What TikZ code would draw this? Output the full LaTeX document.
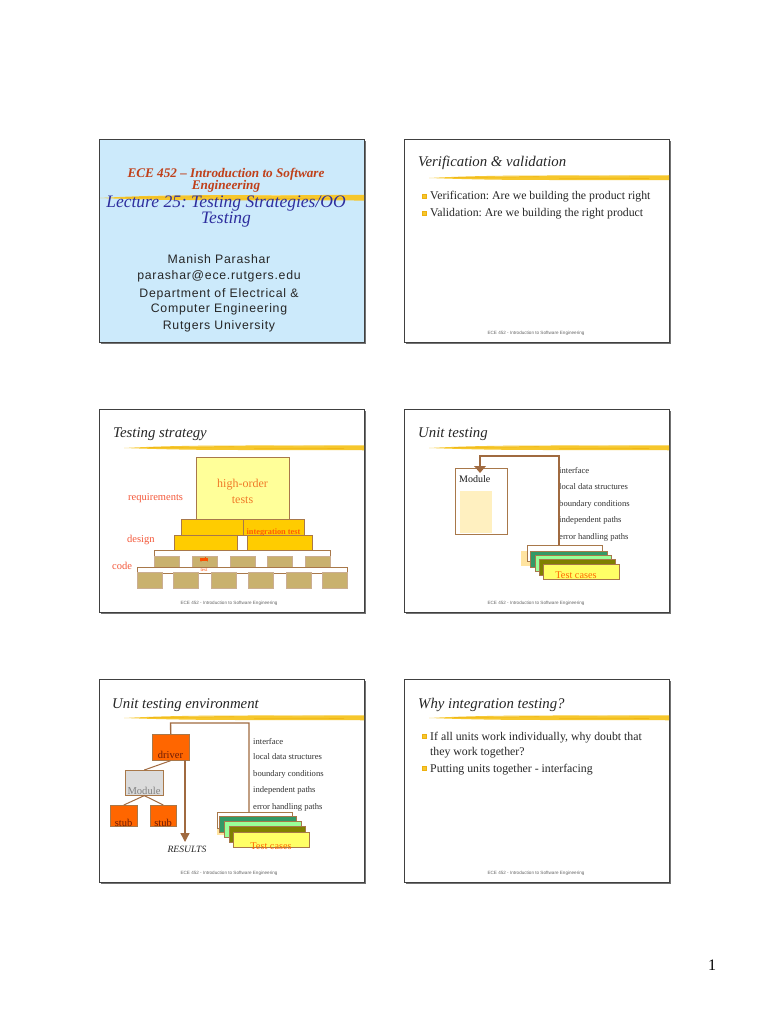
\documentclass[tikz,border=0pt]{standalone}
\usepackage{fontspec}
\setmainfont{Liberation Serif}
\newfontfamily\arialf{Liberation Sans}
\newfontfamily\arialsp[LetterSpace=6]{Liberation Sans}
\usetikzlibrary{arrows.meta}
\frenchspacing
\definecolor{slideblue}{HTML}{CCEAFB}
\definecolor{brushc}{HTML}{F6C72C}
\definecolor{brushd}{HTML}{EDB010}
\definecolor{boxbrown}{HTML}{A8784A}
\definecolor{lnbrown}{HTML}{A06A40}
\definecolor{orng}{HTML}{FF6600}
\definecolor{tanc}{HTML}{C9B16E}
\definecolor{goldc}{HTML}{FFCC00}
\definecolor{paley}{HTML}{FFFF99}
\definecolor{dkgreen}{HTML}{339966}
\definecolor{ltgreen}{HTML}{99FF99}
\definecolor{olivec}{HTML}{808000}
\definecolor{tcyellow}{HTML}{FFFF66}
\definecolor{lblred}{HTML}{F4583A}
\definecolor{hotext}{HTML}{F07A28}
\definecolor{ecered}{HTML}{C0401A}
\definecolor{lectblue}{HTML}{2E2E9E}
\definecolor{palefill}{HTML}{FFF0C0}
\definecolor{patchy}{HTML}{FFE4A0}
\definecolor{drvtext}{HTML}{6A1A08}
\tikzset{
 slideframe/.style={draw=black!75,line width=0.7pt,fill=white,inner sep=0pt,minimum width=265pt,minimum height=203pt,anchor=north west},
 ttl/.style={anchor=base west,inner sep=0pt,font=\fontsize{14.8}{16}\selectfont\itshape,text=black!85},
 bul/.style={anchor=base west,inner sep=0pt,font=\fontsize{11.8}{13}\selectfont,text=black!85},
 bsq/.style={fill=brushc,draw=brushd,line width=0.3pt,minimum size=4pt,inner sep=0pt},
 foot/.style={inner sep=0pt,anchor=base,font=\arialf\fontsize{4.6}{5}\selectfont,text=black!60},
 lst/.style={anchor=base west,inner sep=0pt,font=\fontsize{8.6}{9}\selectfont,text=black!80},
 bx/.style={anchor=north west,inner sep=0pt,draw=boxbrown,line width=0.6pt},
 conn/.style={draw=lnbrown,line width=1.4pt},
 lbl/.style={anchor=base west,inner sep=0pt,font=\fontsize{10.5}{12}\selectfont,text=lblred},
 auth/.style={anchor=base,inner sep=0pt,font=\arialsp\fontsize{12.3}{14}\selectfont,text=black!85},
}
% box: name, style, x1, y1, x2, y2
\newcommand\bxn[6]{\node[bx,#2,minimum width={#5-#3},minimum height={#6-#4}] (#1) at (#3,#4) {};}
% brush stroke: x1, x2, y, half-thickness
\newcommand\brushline[4]{%
 \fill[brushc] (#1,#3) .. controls ({#1+30},{#3-0.6*#4}) and ({#1+60},{#3-#4}) .. ({#1+120},{#3-#4}) -- (#2,{#3-1.1*#4}) -- (#2,{#3+0.9*#4}) -- ({#1+120},{#3+0.8*#4}) .. controls ({#1+60},{#3+0.8*#4}) and ({#1+30},{#3+0.4*#4}) .. (#1,#3) -- cycle;
 \draw[brushd,line width=0.6pt,opacity=0.7] ({#1+25},{#3-0.2*#4}) -- ({#1+110},{#3-0.5*#4}) ({#1+130},{#3+0.3*#4}) -- ({#2-20},{#3+0.2*#4});
 \draw[white,line width=0.3pt,opacity=0.6] ({#1+50},{#3-0.8*#4}) -- ({#1+90},{#3-0.7*#4}) ({#1+150},{#3-0.9*#4}) -- ({#1+200},{#3-0.8*#4});
}
\begin{document}
\begin{tikzpicture}[x=1pt,y=-1pt]
\useasboundingbox[fill=white] (0,0) rectangle (768,1024);

% ---------- shadows and frames
\foreach \sx/\sy in {99/139,404/139,99/409,404/409,99/679,404/679}
  \fill[black!55] ({\sx+1.6},{\sy+1.6}) rectangle ({\sx+266.6},{\sy+204.6});
\node[slideframe,fill=slideblue] (s1) at (99,139) {};
\node[slideframe] (s2) at (404,139) {};
\node[slideframe] (s3) at (99,409) {};
\node[slideframe] (s4) at (404,409) {};
\node[slideframe] (s5) at (99,679) {};
\node[slideframe] (s6) at (404,679) {};

% ---------- slide 1
\brushline{100}{364}{198}{2.8}
\node[anchor=base,inner sep=0pt,font=\fontsize{13.2}{14}\selectfont\bfseries\itshape,text=ecered] (s1a) at (226,178) {ECE 452 -- Introduction to Software};
\node[anchor=base,inner sep=0pt,font=\fontsize{13.2}{14}\selectfont\bfseries\itshape,text=ecered] (s1b) at (226,190) {Engineering};
\node[anchor=base,inner sep=0pt,font=\fontsize{17.5}{18}\selectfont\itshape,text=lectblue] (s1c) at (226,208) {Lecture 25: Testing Strategies/OO};
\node[anchor=base,inner sep=0pt,font=\fontsize{17.5}{18}\selectfont\itshape,text=lectblue] (s1d) at (226,224) {Testing};
\node[auth] (s1e) at (219,263) {Manish Parashar};
\node[auth] (s1f) at (219,279) {parashar@ece.rutgers.edu};
\node[auth] (s1g) at (219,297) {Department of Electrical \&};
\node[auth] (s1h) at (219,312) {Computer Engineering};
\node[auth] (s1i) at (219,329) {Rutgers University};

% ---------- slide 2
\node[ttl] (t2) at (418,167) {Verification \& validation};
\brushline{429}{669}{178}{2.5}
\node[bsq] (b2a) at (424,196) {};
\node[bul] (v2a) at (430,200) {Verification: Are we building the product right};
\node[bsq] (b2b) at (424,213) {};
\node[bul] (v2b) at (430,217) {Validation: Are we building the right product};
\node[foot] (f2) at (536,334) {ECE 452 - Introduction to Software Engineering};

% ---------- slide 3
\node[ttl] (t3) at (113,437) {Testing strategy};
\brushline{124}{364}{448}{2.5}
\bxn{ho}{fill=paley}{196}{457}{289}{519}
\node[anchor=base,inner sep=0pt,font=\fontsize{12}{14}\selectfont,text=hotext] (hot1) at (242.5,487) {high-order};
\node[anchor=base,inner sep=0pt,font=\fontsize{12}{14}\selectfont,text=hotext] (hot2) at (242.5,503) {tests};
\bxn{in1}{fill=goldc}{181}{519}{243}{535}
\bxn{in2}{fill=goldc}{243}{519}{304}{535}
\node[anchor=base,inner sep=0pt,font=\fontsize{8.3}{9}\selectfont\bfseries,text=orng!90!red] (intt) at (273.5,534) {integration test};
\bxn{dg}{fill=white}{237}{535}{247}{550}
\bxn{d1}{fill=goldc}{174}{535}{237}{550}
\bxn{d2}{fill=goldc}{247}{535}{312}{550}
\bxn{rowa}{fill=white}{154}{550}{330}{567}
\foreach \i/\x in {1/154,2/192,3/229.5,4/267,5/305}
  \bxn{ta\i}{fill=tanc,draw=boxbrown!60}{\x}{556}{\x+25}{567}
\bxn{rowb}{fill=white}{137}{567}{347}{573}
\foreach \i/\x in {1/137,2/173,3/211,4/248,5/286,6/322}
  \bxn{tb\i}{fill=tanc,draw=boxbrown!60}{\x}{572}{\x+25}{588}
\node[anchor=base,inner sep=0pt,font=\fontsize{5}{6}\selectfont,text=orng!80!red] (unt) at (204,561) {unit};
\node[anchor=base,inner sep=0pt,font=\fontsize{5}{6}\selectfont,text=orng!80!red] (tst) at (204,571) {test};
\node[lbl] (lreq) at (128,500) {requirements};
\node[lbl] (ldes) at (127,542) {design};
\node[lbl] (lcod) at (112,569) {code};
\node[foot] (f3) at (229,604) {ECE 452 - Introduction to Software Engineering};

% ---------- slide 4
\node[ttl] (t4) at (418,437) {Unit testing};
\brushline{429}{669}{448}{2.5}
\bxn{m4}{fill=white}{455}{468}{507}{534}
\bxn{m4in}{fill=palefill,draw=none}{460}{491}{492}{533}
\node[anchor=base west,inner sep=0pt,font=\fontsize{10}{12}\selectfont,text=black!90] (m4t) at (459,482) {Module};
\node[lst] (l4a) at (559,473) {interface};
\node[lst] (l4b) at (559,489) {local data structures};
\node[lst] (l4c) at (559,506) {boundary conditions};
\node[lst] (l4d) at (559,522) {independent paths};
\node[lst] (l4e) at (559,539) {error handling paths};
\bxn{tc4p}{fill=patchy,draw=none}{521}{551}{530}{566}
\bxn{tc4w}{fill=white}{527}{545}{602}{561}
\bxn{tc4a}{fill=dkgreen}{530}{551}{607}{567}
\bxn{tc4b}{fill=ltgreen}{535}{555}{611}{571}
\bxn{tc4c}{fill=olivec}{539}{559}{615}{575}
\bxn{tc4d}{fill=tcyellow}{543}{564}{619}{579}
\node[anchor=base,inner sep=0pt,font=\fontsize{10.3}{12}\selectfont,text=orng] (tc4t) at (576,578) {Test cases};
\coordinate (c4a) at (480,456);
\coordinate (c4b) at (559,456);
\coordinate (c4in) at (480,467);
\draw[conn] (tc4w.north -| c4b) -- (c4b) -- (c4a) -- (c4in);
\fill[lnbrown] (474,466) -- (486,466) -- (480,473) -- cycle;
\node[foot] (f4) at (536,604) {ECE 452 - Introduction to Software Engineering};

% ---------- slide 5
\node[ttl] (t5) at (112,708) {Unit testing environment};
\brushline{124}{364}{718}{2.5}
\bxn{drv}{fill=orng}{152}{734}{189}{760}
\node[anchor=base,inner sep=0pt,font=\fontsize{10.5}{12}\selectfont,text=drvtext] (drvt) at (170.5,758) {driver};
\bxn{mod5}{fill=black!14}{125}{770}{163}{795}
\node[anchor=base,inner sep=0pt,font=\fontsize{10.6}{12}\selectfont,text=black!50] (mod5t) at (144,794) {Module};
\bxn{st1}{fill=orng}{110}{805}{137}{826}
\bxn{st2}{fill=orng}{150}{805}{176}{826}
\node[anchor=base,inner sep=0pt,font=\fontsize{10.5}{12}\selectfont,text=drvtext] (st1t) at (123.5,826) {stub};
\node[anchor=base,inner sep=0pt,font=\fontsize{10.5}{12}\selectfont,text=drvtext] (st2t) at (163,826) {stub};
\draw[lnbrown,line width=1pt] (drv.south) -- (mod5.north);
\draw[lnbrown,line width=1pt] (mod5.south) -- (st1.north);
\draw[lnbrown,line width=1pt] (mod5.south) -- (st2.north);
\node[lst] (l5a) at (253,744) {interface};
\node[lst] (l5b) at (253,759) {local data structures};
\node[lst] (l5c) at (253,776) {boundary conditions};
\node[lst] (l5d) at (253,792) {independent paths};
\node[lst] (l5e) at (253,809) {error handling paths};
\bxn{tc5p}{fill=patchy,draw=none}{217}{822}{224}{835}
\bxn{tc5w}{fill=white}{217}{812}{292}{828}
\bxn{tc5a}{fill=dkgreen}{219}{816}{296}{832}
\bxn{tc5b}{fill=ltgreen}{224}{821}{301}{837}
\bxn{tc5c}{fill=olivec}{229}{826}{305}{842}
\bxn{tc5d}{fill=tcyellow}{233}{832}{309}{847}
\node[anchor=base,inner sep=0pt,font=\fontsize{10.3}{12}\selectfont,text=orng] (tc5t) at (271,849) {Test cases};
\coordinate (t5l) at (170.5,723);
\coordinate (t5r) at (249,723);
\draw[conn] (drv.north) -- (t5l) -- (t5r) -- (t5r |- tc5w.north);
\coordinate (r5a) at (185,760);
\coordinate (r5b) at (185,842);
\draw[conn,-{Triangle[width=9pt,length=9pt]}] (r5a) -- (r5b);
\node[anchor=base,inner sep=0pt,font=\fontsize{9.6}{11}\selectfont\itshape,text=black!85] (res) at (187,852) {RESULTS};
\node[foot] (f5) at (229,874) {ECE 452 - Introduction to Software Engineering};

% ---------- slide 6
\node[ttl] (t6) at (418,708) {Why integration testing?};
\brushline{429}{669}{718}{2.5}
\node[bsq] (b6a) at (424,736) {};
\node[bul] (w6a) at (430,740) {If all units work individually, why doubt that};
\node[bul] (w6b) at (430,755) {they work together?};
\node[bsq] (b6b) at (424,768) {};
\node[bul] (w6c) at (430,772) {Putting units together - interfacing};
\node[foot] (f6) at (536,874) {ECE 452 - Introduction to Software Engineering};

% ---------- page number
\node[anchor=base,inner sep=0pt,font=\fontsize{16}{18}\selectfont] (pg) at (712,970) {1};
\end{tikzpicture}
\end{document}
